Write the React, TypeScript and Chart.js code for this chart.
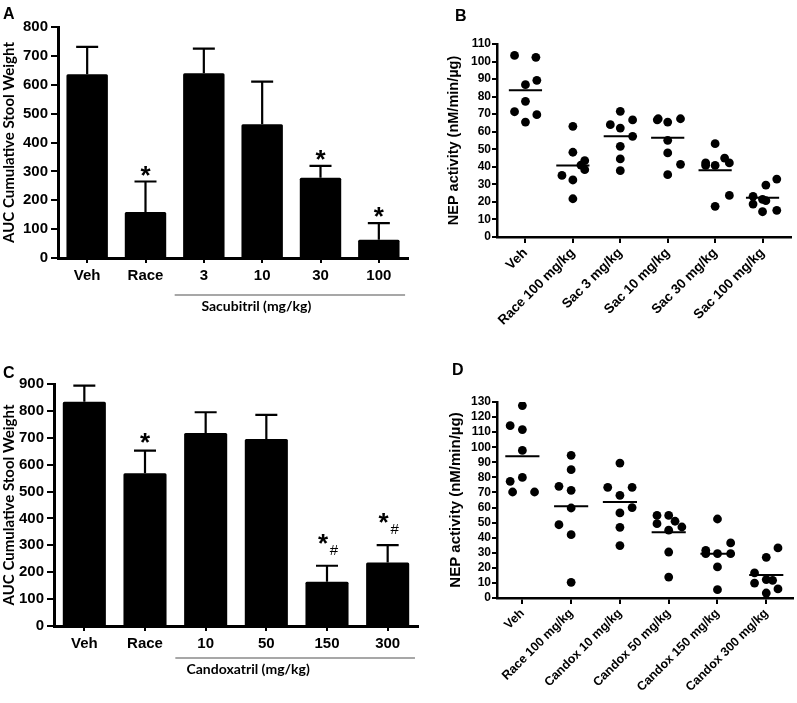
import React, { useEffect, useRef } from "react";
import { Chart, registerables } from "chart.js";

Chart.register(...registerables);

// ---------- DATA ----------
// Panel A (Sacubitril)
const A_CATS = ["Veh", "Race", "3", "10", "30", "100"];
const A_MEANS = [636, 159, 640, 463, 278, 63];
const A_ERR_TOP = [731, 265, 725, 611, 319, 121];
const A_STAR = [false, true, false, false, true, true];
const A_HASH = [false, false, false, false, false, false];
const A_YTICK_MAX = 800;

// Panel C (Candoxatril)
const C_CATS = ["Veh", "Race", "10", "50", "150", "300"];
const C_MEANS = [834, 568, 718, 695, 165, 236];
const C_ERR_TOP = [894, 652, 795, 785, 224, 301];
const C_STAR = [false, true, false, false, true, true];
const C_HASH = [false, false, false, false, true, true];
const C_YTICK_MAX = 900;

// Panel B (NEP activity, sacubitril)
const B_CATS = ["Veh", "Race 100 mg/kg", "Sac 3 mg/kg", "Sac 10 mg/kg", "Sac 30 mg/kg", "Sac 100 mg/kg"];
const B_VEH = [103.5, 102.4, 86.8, 89.3, 77.3, 71.4, 69.7, 65.5];
const B_VEH_X = [-0.23, 0.22, 0, 0.24, 0, -0.23, 0.24, 0];
const B_RACE = [63.1, 48.3, 43.5, 41, 38.4, 35.1, 32.5, 21.8];
const B_RACE_X = [0, 0, 0.25, 0.17, 0.25, -0.23, 0, 0];
const B_SAC3 = [71.6, 64, 66.7, 62.1, 57.4, 51.7, 44.5, 37.8];
const B_SAC3_X = [0, -0.21, 0.26, 0, 0.26, 0, 0, 0];
const B_SAC10 = [67.4, 66.8, 65.5, 67.4, 55.1, 47.9, 41.4, 35.5];
const B_SAC10_X = [-0.2, -0.22, 0, 0.27, 0, 0, 0.27, 0];
const B_SAC30 = [53.2, 42.2, 40.8, 40.8, 45, 42.2, 23.7, 17.5];
const B_SAC30_X = [0, -0.2, -0.2, 0, 0.2, 0.3, 0.3, 0];
const B_SAC100 = [29.6, 33, 23.2, 18.8, 20.7, 21.5, 14.4, 15.2];
const B_SAC100_X = [0.07, 0.3, -0.2, -0.2, 0.07, 0, 0, 0.3];
const B_MEANS = [83.6, 40.8, 57.4, 56.6, 38, 22.4];
const B_YMAX = 110;

// Panel D (NEP activity, candoxatril)
const D_CATS = ["Veh", "Race 100 mg/kg", "Candox 10 mg/kg", "Candox 50 mg/kg", "Candox 150 mg/kg", "Candox 300 mg/kg"];
const D_VEH = [127.6, 114.3, 111.7, 97.9, 80, 77.4, 70.3, 70.3];
const D_VEH_X = [0, -0.25, 0, 0, 0, -0.25, -0.2, 0.25];
const D_RACE = [94.6, 85.1, 74.1, 71.4, 59.7, 48.6, 42, 10.4];
const D_RACE_X = [0, 0, -0.25, 0, 0, -0.25, 0, 0];
const D_C10 = [89.5, 73.4, 73.4, 68.1, 60, 56.4, 46.9, 34.8];
const D_C10_X = [0, -0.25, 0.25, 0, 0.25, 0, 0, 0];
const D_C50 = [54.8, 54.8, 49.3, 50.9, 47.1, 45, 30.5, 13.9];
const D_C50_X = [-0.24, 0, -0.24, 0.13, 0.27, 0, 0, 0];
const D_C150 = [52.4, 36.5, 31.6, 29.4, 29.4, 29.4, 20.6, 5.5];
const D_C150_X = [0, 0.27, -0.24, -0.24, 0, 0.27, 0, 0];
const D_C300 = [33.2, 27, 16.6, 9.9, 12.2, 11.7, 6, 3.3];
const D_C300_X = [0.24, 0, -0.24, -0.24, 0, 0.13, 0.24, 0];
const D_MEANS = [94, 60.8, 63.7, 43.6, 29.4, 15.3];
const D_YMAX = 130;

// ---------- STYLE ----------
const ARIAL = "'Liberation Sans', Arial, sans-serif";
const LATO = "Lato, 'Open Sans', sans-serif";

type Area = { left: number; top: number; right: number; bottom: number };

const errBarPlugin = {
  id: "errbars",
  afterDatasetsDraw(chart: any, _a: any, o: any) {
    const ctx = chart.ctx;
    const meta = chart.getDatasetMeta(0);
    const y = chart.scales.y;
    ctx.save();
    ctx.strokeStyle = "#000";
    ctx.fillStyle = "#000";
    ctx.lineWidth = 2.2;
    meta.data.forEach((bar: any, i: number) => {
      const top = y.getPixelForValue(o.errTop[i]);
      const x = bar.x;
      ctx.beginPath();
      ctx.moveTo(x, bar.y);
      ctx.lineTo(x, top);
      ctx.moveTo(x - 11, top);
      ctx.lineTo(x + 11, top);
      ctx.stroke();
      if (o.star[i]) {
        const size = 26;
        const hasHash = o.hash[i];
        const cy = top - (hasHash ? 28 : o.starGap);
        const cx = x + (hasHash ? -4 : 0);
        ctx.font = `bold ${size}px ${ARIAL}`;
        ctx.textAlign = "center";
        ctx.textBaseline = "alphabetic";
        ctx.fillText("*", cx, cy + 0.553 * size);
        if (hasHash) {
          const hs = 15;
          ctx.font = `${hs}px ${ARIAL}`;
          ctx.fillText("#", x + 7, top - 16 + 0.35 * hs);
        }
      }
    });
    ctx.restore();
  },
};

const decorPlugin = {
  id: "decor",
  afterDraw(chart: any, _a: any, o: any) {
    const ctx = chart.ctx;
    ctx.save();
    ctx.fillStyle = "#000";
    ctx.font = `bold 16px ${ARIAL}`;
    ctx.textAlign = "left";
    ctx.textBaseline = "alphabetic";
    ctx.fillText(o.letter, o.letterX, o.letterY);
    if (o.group) {
      const xs = chart.scales.x;
      const step = xs.getPixelForValue(1) - xs.getPixelForValue(0);
      const x0 = xs.getPixelForValue(o.group.from) - step * 0.5;
      const x1 = xs.getPixelForValue(o.group.to) + step * 0.45;
      const ly = chart.chartArea.bottom + o.group.gap;
      ctx.strokeStyle = "#8a8a8a";
      ctx.lineWidth = 1.5;
      ctx.beginPath();
      ctx.moveTo(x0, ly);
      ctx.lineTo(x1, ly);
      ctx.stroke();
      ctx.font = `bold 14px ${LATO}`;
      ctx.textAlign = "center";
      ctx.textBaseline = "middle";
      ctx.fillText(o.group.text, xs.getPixelForValue(o.group.labelAt), ly + 11);
    }
    ctx.restore();
  },
};

function barConfig(p: any) {
  const a: Area = p.area;
  return {
    type: "bar",
    data: {
      labels: p.cats,
      datasets: [
        {
          data: p.means,
          backgroundColor: "#000",
          borderWidth: 0,
          borderRadius: 1.5,
          barPercentage: 0.71,
          categoryPercentage: 1,
        },
      ],
    },
    options: {
      responsive: false,
      animation: false,
      layout: { padding: { left: 0, top: a.top, right: p.w - a.right, bottom: 0 } },
      plugins: {
        legend: { display: false },
        tooltip: { enabled: false },
        errbars: { errTop: p.errTop, star: p.star, hash: p.hash, starGap: p.starGap },
        decor: { letter: p.letter, letterX: p.letterX, letterY: p.letterY, group: p.group },
      },
      scales: {
        x: {
          grid: { display: true, drawOnChartArea: false, drawTicks: true, tickLength: 5, offset: false, color: "#000", lineWidth: 2 },
          border: { display: true, color: "#000", width: 3 },
          ticks: { font: { family: ARIAL, size: 15, weight: "bold" }, color: "#000", padding: 4, maxRotation: 0, autoSkip: false },
          afterFit: (s: any) => {
            s.height = p.h - a.bottom;
          },
        },
        y: {
          min: 0,
          max: p.ymax,
          ticks: { stepSize: 100, autoSkip: false, font: { family: ARIAL, size: 15, weight: "bold" }, color: "#000", padding: 3 },
          grid: { display: true, drawOnChartArea: false, drawTicks: true, tickLength: 7, color: "#000", lineWidth: 2 },
          border: { display: true, color: "#000", width: 3 },
          title: {
            display: true,
            text: "AUC Cumulative Stool Weight",
            color: "#000",
            font: { family: LATO, size: 15, weight: "bold" },
            padding: { top: 0, bottom: 0 },
          },
          afterFit: (s: any) => {
            s.width = a.left;
          },
        },
      },
    },
    plugins: [errBarPlugin, decorPlugin],
  };
}

function scatterConfig(p: any) {
  const a: Area = p.area;
  const pts: any[] = [];
  p.groups.forEach((vals: number[], i: number) => {
    vals.forEach((v, j) => pts.push({ x: i + p.jitter[i][j], y: v }));
  });
  const meanPts: any[] = [];
  p.means.forEach((m: number, i: number) => {
    meanPts.push({ x: i - 0.35, y: m }, { x: i + 0.35, y: m }, { x: i + 0.5, y: null });
  });
  return {
    type: "scatter",
    data: {
      datasets: [
        {
          data: pts,
          backgroundColor: "#000",
          borderWidth: 0,
          pointRadius: 4.4,
        },
        {
          data: meanPts,
          showLine: true,
          spanGaps: false,
          borderColor: "#000",
          borderWidth: 2,
          pointRadius: 0,
        },
      ],
    },
    options: {
      responsive: false,
      animation: false,
      layout: { padding: { left: 0, top: a.top, right: p.w - a.right, bottom: 0 } },
      plugins: {
        legend: { display: false },
        tooltip: { enabled: false },
        decor: { letter: p.letter, letterX: p.letterX, letterY: p.letterY },
      },
      scales: {
        x: {
          type: "linear",
          min: p.xmin,
          max: p.xmax,
          afterBuildTicks: (s: any) => {
            s.ticks = p.cats.map((_: string, i: number) => ({ value: i }));
          },
          ticks: {
            autoSkip: false,
            minRotation: 45,
            maxRotation: 45,
            padding: 2,
            color: "#000",
            font: { family: ARIAL, size: p.xFont, weight: "bold" },
            callback: (_v: any, i: number) => p.cats[i],
          },
          grid: { display: true, drawOnChartArea: false, drawTicks: true, tickLength: 6, color: "#000", lineWidth: 2 },
          border: { display: true, color: "#000", width: 2.5 },
          afterFit: (s: any) => {
            s.height = p.h - a.bottom;
          },
        },
        y: {
          min: 0,
          max: p.ymax,
          ticks: { stepSize: 10, autoSkip: false, font: { family: ARIAL, size: 12, weight: "bold" }, color: "#000", padding: 1 },
          grid: { display: true, drawOnChartArea: false, drawTicks: true, tickLength: 5, color: "#000", lineWidth: 2 },
          border: { display: true, color: "#000", width: 2.5 },
          title: {
            display: true,
            text: "NEP activity (nM/min/\u00b5g)",
            color: "#000",
            font: { family: ARIAL, size: p.titleSize, weight: "bold" },
            padding: { top: p.titlePad, bottom: 0 },
          },
          afterFit: (s: any) => {
            s.width = a.left;
          },
        },
      },
    },
    plugins: [decorPlugin],
  };
}

function ChartBox({ left, top, w, h, config }: any) {
  const ref = useRef<HTMLCanvasElement | null>(null);
  useEffect(() => {
    if (!ref.current) return;
    const chart = new Chart(ref.current, config as any);
    return () => chart.destroy();
  }, []);
  return (
    <canvas
      ref={ref}
      width={w}
      height={h}
      style={{ position: "absolute", left, top, width: w, height: h }}
    />
  );
}

export default function App() {
  const cfgA = barConfig({
    cats: A_CATS, means: A_MEANS, errTop: A_ERR_TOP, star: A_STAR, hash: A_HASH, ymax: A_YTICK_MAX,
    w: 420, h: 330, area: { left: 58, top: 27, right: 408, bottom: 258 }, starGap: 12,
    letter: "A", letterX: 3, letterY: 19,
    group: { from: 2, to: 5, gap: 37, text: "Sacubitril (mg/kg)", labelAt: 2.9 },
  });
  const cfgC = barConfig({
    cats: C_CATS, means: C_MEANS, errTop: C_ERR_TOP, star: C_STAR, hash: C_HASH, ymax: C_YTICK_MAX,
    w: 420, h: 373, area: { left: 54, top: 54, right: 418, bottom: 296 }, starGap: 14,
    letter: "C", letterX: 3, letterY: 48,
    group: { from: 2, to: 5, gap: 32, text: "Candoxatril (mg/kg)", labelAt: 2.7 },
  });
  const cfgB = scatterConfig({
    cats: B_CATS,
    groups: [B_VEH, B_RACE, B_SAC3, B_SAC10, B_SAC30, B_SAC100],
    jitter: [B_VEH_X, B_RACE_X, B_SAC3_X, B_SAC10_X, B_SAC30_X, B_SAC100_X],
    means: B_MEANS, ymax: B_YMAX, xmin: -0.6, xmax: 5.6, xFont: 13.5, titleSize: 14.5, titlePad: 25,
    w: 377, h: 350, area: { left: 77, top: 44, right: 371, bottom: 237 },
    letter: "B", letterX: 35, letterY: 21,
  });
  const cfgD = scatterConfig({
    cats: D_CATS,
    groups: [D_VEH, D_RACE, D_C10, D_C50, D_C150, D_C300],
    jitter: [D_VEH_X, D_RACE_X, D_C10_X, D_C50_X, D_C150_X, D_C300_X],
    means: D_MEANS, ymax: D_YMAX, xmin: -0.52, xmax: 5.54, xFont: 12.5, titleSize: 15, titlePad: 26.5,
    w: 377, h: 353, area: { left: 77, top: 52, right: 375, bottom: 248 },
    letter: "D", letterX: 32, letterY: 25,
  });
  return (
    <div style={{ position: "absolute", left: 0, top: 0, width: 797, height: 703, background: "#fff" }}>
      <ChartBox left={0} top={0} w={420} h={330} config={cfgA} />
      <ChartBox left={420} top={0} w={377} h={350} config={cfgB} />
      <ChartBox left={0} top={330} w={420} h={373} config={cfgC} />
      <ChartBox left={420} top={350} w={377} h={353} config={cfgD} />
    </div>
  );
}
